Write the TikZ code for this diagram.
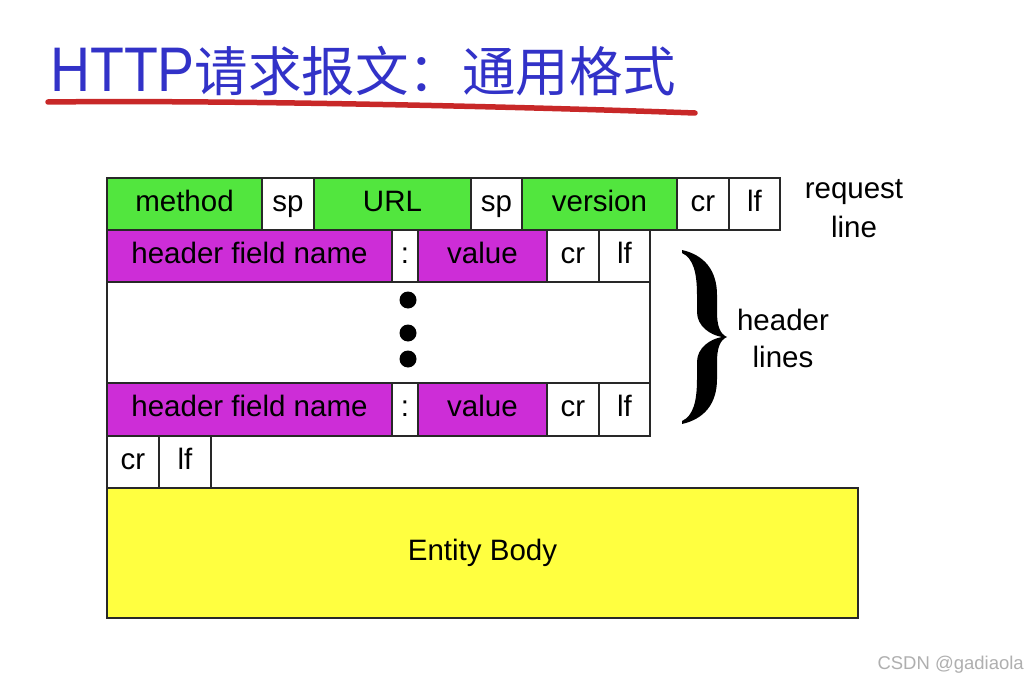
\documentclass[tikz,border=0pt]{standalone}
\usepackage{fontspec}
\setmainfont{Liberation Sans}
\newfontfamily\cjk{Noto Sans CJK SC}
\definecolor{cellgreen}{RGB}{82,230,62}
\definecolor{cellmag}{RGB}{205,45,215}
\definecolor{bodyyel}{RGB}{255,255,64}
\definecolor{titleblue}{RGB}{50,50,200}
\definecolor{ulred}{RGB}{200,40,40}
\definecolor{linegray}{RGB}{40,40,40}
\definecolor{wmgray}{RGB}{175,175,175}
\tikzset{
  cellbox/.style={draw=linegray, line width=1.1pt, inner sep=0pt, outer sep=0pt,
    anchor=north west, font=\fontsize{29.5}{34}\selectfont, text height=20pt, text depth=6pt},
  sidelabel/.style={anchor=base, inner sep=0pt, font=\fontsize{29.5}{34}\selectfont},
  dotmark/.style={circle, fill=black, minimum size=17pt, inner sep=0pt}
}
\newcommand\mycell[7]{\node[cellbox, fill=#6, minimum width=#4pt, minimum height=#5pt] (#1) at (#2,#3) {#7};}
\begin{document}
\begin{tikzpicture}[x=1pt,y=-1pt]
\useasboundingbox (0,0) rectangle (1028,682);
\fill[white] (0,0) rectangle (1028,682);

% title
\node[anchor=base west, inner sep=0pt, text=titleblue] (title) at (50,92)
  {\fontsize{63}{70}\selectfont\scalebox{0.88}[1]{HTTP}\fontsize{53.5}{60}\selectfont\cjk 请求报文：通用格式};
\draw[ulred, line width=5.5pt, line cap=round] (48,102) .. controls (220,100) and (500,106) .. (695,113);

% request line
\mycell{method}{107}{178}{155}{52}{cellgreen}{method}
\mycell{spA}{262}{178}{52}{52}{white}{sp}
\mycell{url}{314}{178}{157}{52}{cellgreen}{URL}
\mycell{spB}{471}{178}{51}{52}{white}{sp}
\mycell{version}{522}{178}{155}{52}{cellgreen}{version}
\mycell{crA}{677}{178}{52}{52}{white}{cr}
\mycell{lfA}{729}{178}{51}{52}{white}{lf}

% header line 1
\mycell{hfnA}{107}{230}{285}{52}{cellmag}{header field name\hspace{10pt}}
\mycell{colA}{392}{230}{26}{52}{white}{:}
\mycell{valA}{418}{230}{129}{52}{cellmag}{value}
\mycell{crB}{547}{230}{52}{52}{white}{cr}
\mycell{lfB}{599}{230}{51}{52}{white}{lf}

% dots box
\mycell{dotsbox}{107}{282}{543}{101}{white}{}
\node[dotmark] (dotA) at (408,300) {};
\node[dotmark] (dotB) at (408,333) {};
\node[dotmark] (dotC) at (408,359) {};

% header line n
\mycell{hfnB}{107}{383}{285}{53}{cellmag}{header field name\hspace{10pt}}
\mycell{colB}{392}{383}{26}{53}{white}{:}
\mycell{valB}{418}{383}{129}{53}{cellmag}{value}
\mycell{crC}{547}{383}{52}{53}{white}{cr}
\mycell{lfC}{599}{383}{51}{53}{white}{lf}

% blank line
\mycell{crD}{107}{436}{52}{52}{white}{cr}
\mycell{lfD}{159}{436}{52}{52}{white}{lf}

% entity body
\mycell{body}{107}{488}{751}{130}{bodyyel}{Entity Body\hspace{8pt}}

% side labels
\node[sidelabel] (reqA) at (854,198) {request};
\node[sidelabel] (reqB) at (854,237) {line};
\node[sidelabel] (hdrA) at (783,330) {header};
\node[sidelabel] (hdrB) at (783,367) {lines};

% brace
\fill[black] (682,250) .. controls (704,255) and (717,270) .. (717,295) -- (717,312)
  .. controls (717,326) and (720,334) .. (727,337)
  .. controls (720,340) and (717,348) .. (717,362) -- (717,379)
  .. controls (717,404) and (704,419) .. (682,424) -- (682,421)
  .. controls (693,416) and (697,402) .. (697,379) -- (697,362)
  .. controls (697,348) and (710,339) .. (722,337)
  .. controls (710,335) and (697,326) .. (697,312) -- (697,295)
  .. controls (697,272) and (693,258) .. (682,253) -- cycle;

% watermark
\node[anchor=base east, inner sep=0pt, text=wmgray, font=\fontsize{18.5}{22}\selectfont] (wm) at (1024,669) {CSDN @gadiaola};
\end{tikzpicture}
\end{document}
